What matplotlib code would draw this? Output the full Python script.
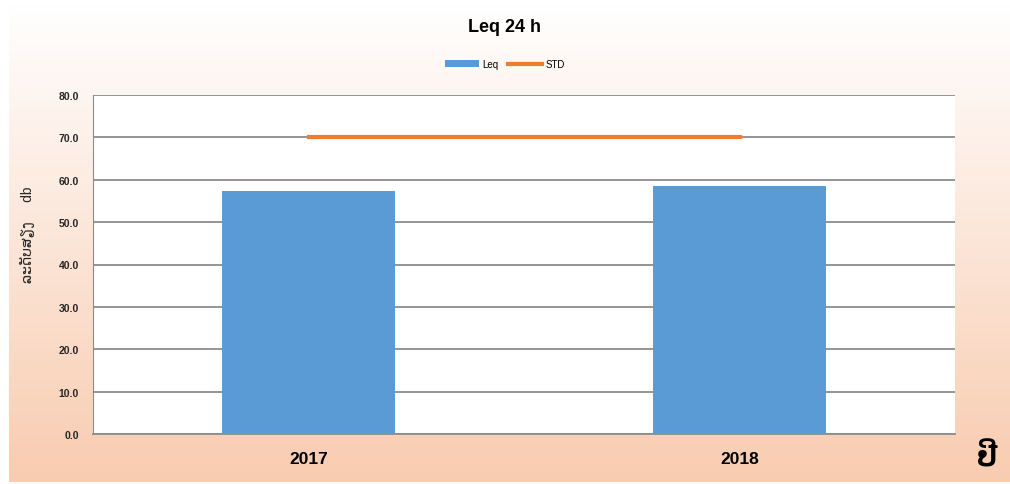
import numpy as np
import matplotlib.pyplot as plt

years = ["2017", "2018"]
leq = [57.3, 58.5]
std = [70.0, 70.0]
yticks = [0, 10, 20, 30, 40, 50, 60, 70, 80]

plt.rcParams['font.family'] = ['Liberation Sans', 'DejaVu Sans']

fig = plt.figure(figsize=(10.1, 4.85), dpi=100)

# peach gradient behind everything
bg = fig.add_axes([9 / 1010, 2 / 485, 1 - 9 / 1010, 1 - 7 / 485])
top = np.array([1.0, 1.0, 1.0])
bot = np.array([248, 204, 176]) / 255.0
t = np.linspace(0, 1, 256)[:, None]
grad = top * (1 - t) + bot * t
bg.imshow(np.repeat(grad[:, None, :], 2, axis=1), aspect='auto', extent=[0, 1, 0, 1])
bg.set_axis_off()

ax = fig.add_axes([93 / 1010, 50 / 485, 862 / 1010, 339 / 485])
ax.set_facecolor('white')
x = np.arange(len(years))
bars = ax.bar(x, leq, width=0.4, color='#5B9BD5', label='Leq', zorder=3)
line, = ax.plot(x, std, color='#ED7D31', lw=3, label='STD', zorder=4)

ax.set_xlim(-0.5, len(years) - 0.5)
ax.set_ylim(0, 80)
ax.set_yticks(yticks)
ax.set_yticklabels([f"{v:.1f}" for v in yticks], fontsize=7.5, fontweight='bold', color='#262626')
ax.set_xticks(x)
ax.set_xticklabels(years, fontsize=12.5, fontweight='bold')
ax.tick_params(axis='y', length=0, pad=10)
ax.tick_params(axis='x', length=0, pad=12)
ax.grid(axis='y', color='#8c8c8c', lw=1.3, zorder=1)
for s in ['top', 'right']:
    ax.spines[s].set_visible(False)
ax.spines['left'].set_color('#8c8c8c')
ax.spines['bottom'].set_color('#8c8c8c')
ax.spines['bottom'].set_linewidth(1.3)

fig.text(0.5, 1 - 28 / 485, "Leq 24 h", ha='center', va='center', fontsize=13, fontweight='bold')
fig.legend([bars, line], ['Leq', 'STD'], loc='center', bbox_to_anchor=(0.5, 1 - 65 / 485), ncol=2,
           frameon=False, fontsize=7, handlelength=3.5, columnspacing=1.0, handletextpad=0.3)
fig.text(28 / 1010, 1 - 235 / 485, "ລະດັບສຽງ     db", rotation=90, ha='center', va='center',
         fontsize=10, color='#262626')
fig.text(987 / 1010, 1 - 458 / 485, "ປີ", ha='center', va='center', fontsize=20, fontweight='bold')

fig.savefig('out.png', dpi=100)
